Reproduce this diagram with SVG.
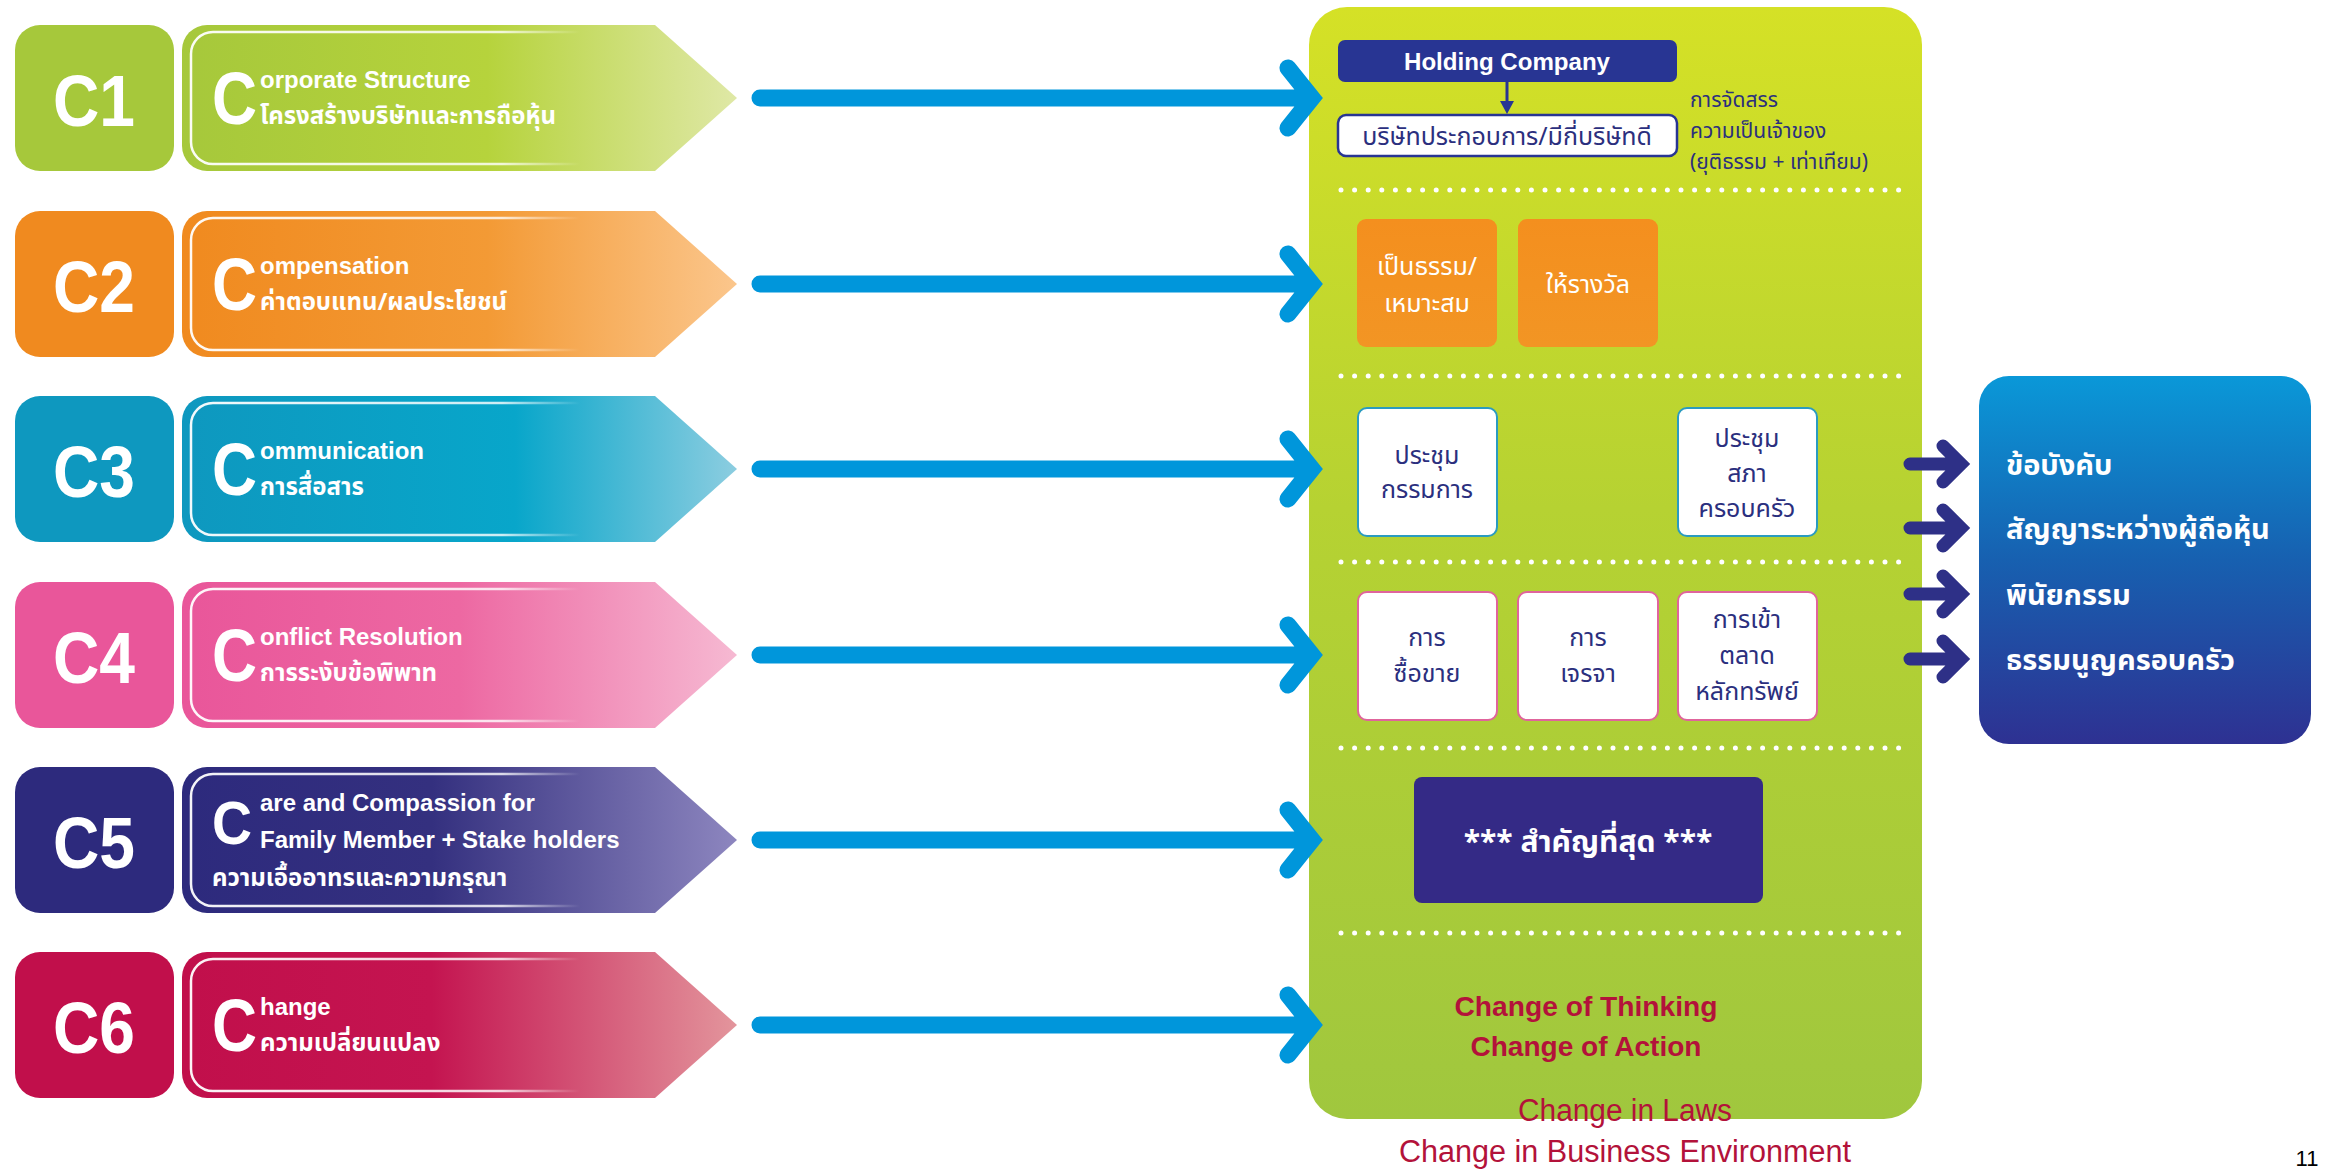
<svg xmlns="http://www.w3.org/2000/svg" width="2333" height="1170" viewBox="0 0 2333 1170">
<defs>
<style>
.sqt{font-family:"Liberation Sans",Arial,sans-serif;font-weight:bold;fill:#fff;text-anchor:middle}
.bigc{font-family:"Liberation Sans",Arial,sans-serif;font-weight:bold;fill:#fff}
.en{font-family:"Liberation Sans",Arial,sans-serif;font-weight:bold;fill:#fff;font-size:24px}
.th{font-family:"Noto Sans Thai","Noto Sans Thai UI","Liberation Sans",sans-serif;font-weight:bold;fill:#fff;font-size:24px}
.box{font-family:"Noto Sans Thai","Noto Sans Thai UI","Liberation Sans",sans-serif;fill:#2b2f7e;font-size:25px;text-anchor:middle}
.obox{font-family:"Noto Sans Thai","Noto Sans Thai UI","Liberation Sans",sans-serif;fill:#fff;font-size:25px;text-anchor:middle}
.side{font-family:"Noto Sans Thai","Noto Sans Thai UI","Liberation Sans",sans-serif;fill:#2b2f7e;font-size:21px}
.bl{font-family:"Noto Sans Thai","Noto Sans Thai UI","Liberation Sans",sans-serif;font-weight:bold;fill:#fff;font-size:29px}
.red{font-family:"Liberation Sans",Arial,sans-serif;fill:#b3123a;text-anchor:middle}
.dots{stroke:#fff;stroke-width:5;stroke-linecap:round;stroke-dasharray:0 13.6}
.barrow{fill:none;stroke:#0096db;stroke-width:17;stroke-linecap:round;stroke-linejoin:miter}
.narrow{fill:none;stroke:#2e3087;stroke-width:13;stroke-linecap:round;stroke-linejoin:miter}
.wbox3{fill:#fff;stroke:#2a9bc0;stroke-width:2}
.wbox4{fill:#fff;stroke:#e0649c;stroke-width:2}
</style>
<linearGradient id="g1" x1="0" x2="1" y1="0" y2="0"><stop offset="0" stop-color="#a6c83b"/><stop offset="0.55" stop-color="#b6d33c"/><stop offset="1" stop-color="#dfe8a6"/></linearGradient>
<linearGradient id="g2" x1="0" x2="1" y1="0" y2="0"><stop offset="0" stop-color="#f08a1f"/><stop offset="0.55" stop-color="#f39a35"/><stop offset="1" stop-color="#fbc68c"/></linearGradient>
<linearGradient id="g3" x1="0" x2="1" y1="0" y2="0"><stop offset="0" stop-color="#0e98bf"/><stop offset="0.6" stop-color="#08a6ca"/><stop offset="1" stop-color="#8ccde0"/></linearGradient>
<linearGradient id="g4" x1="0" x2="1" y1="0" y2="0"><stop offset="0" stop-color="#e9569a"/><stop offset="0.5" stop-color="#ed68a2"/><stop offset="1" stop-color="#f6b9d2"/></linearGradient>
<linearGradient id="g5" x1="0" x2="1" y1="0" y2="0"><stop offset="0" stop-color="#2d2a7d"/><stop offset="0.45" stop-color="#34307f"/><stop offset="1" stop-color="#8d86bf"/></linearGradient>
<linearGradient id="g6" x1="0" x2="1" y1="0" y2="0"><stop offset="0" stop-color="#c10f4b"/><stop offset="0.45" stop-color="#c41450"/><stop offset="1" stop-color="#e3959c"/></linearGradient>
<linearGradient id="wf" gradientUnits="userSpaceOnUse" x1="190" x2="580" y1="0" y2="0"><stop offset="0" stop-color="#fff" stop-opacity="0.95"/><stop offset="0.8" stop-color="#fff" stop-opacity="0.8"/><stop offset="1" stop-color="#fff" stop-opacity="0"/></linearGradient>
<linearGradient id="panel" x1="0" x2="0" y1="0" y2="1"><stop offset="0" stop-color="#d5e126"/><stop offset="0.45" stop-color="#b6d232"/><stop offset="1" stop-color="#a0c73e"/></linearGradient>
<linearGradient id="bluebox" x1="0" x2="0" y1="0" y2="1"><stop offset="0" stop-color="#0a98d8"/><stop offset="0.5" stop-color="#1760b0"/><stop offset="1" stop-color="#2e3192"/></linearGradient>
<linearGradient id="orange" x1="0" x2="0" y1="0" y2="1"><stop offset="0" stop-color="#f48f1e"/><stop offset="1" stop-color="#f29524"/></linearGradient>
<path id="banner" d="M207,0 H655 L737,73 L655,146 H207 A25,25 0 0 1 182,121 V25 A25,25 0 0 1 207,0 Z"/>
<path id="inner" d="M580,7 H213 A22,22 0 0 0 191,29 V117 A22,22 0 0 0 213,139 H580" fill="none" stroke="url(#wf)" stroke-width="2.5"/>
</defs>
<rect width="2333" height="1170" fill="#fff"/>

<g id="c1" transform="translate(0,25)">
<rect x="15" y="0" width="159" height="146" rx="25" fill="#a6c83b"/>
<text class="sqt" x="94" y="101" font-size="72" textLength="82" lengthAdjust="spacingAndGlyphs">C1</text>
<use href="#banner" fill="url(#g1)"/><use href="#inner"/>
<text class="bigc" x="212" y="99" font-size="74" textLength="45" lengthAdjust="spacingAndGlyphs">C</text>
<text class="en" x="260" y="63">orporate Structure</text>
<text class="th" x="260" y="99">โครงสร้างบริษัทและการถือหุ้น</text>
</g>

<g id="c2" transform="translate(0,211)">
<rect x="15" y="0" width="159" height="146" rx="25" fill="#f08a1f"/>
<text class="sqt" x="94" y="101" font-size="72" textLength="82" lengthAdjust="spacingAndGlyphs">C2</text>
<use href="#banner" fill="url(#g2)"/><use href="#inner"/>
<text class="bigc" x="212" y="99" font-size="74" textLength="45" lengthAdjust="spacingAndGlyphs">C</text>
<text class="en" x="260" y="63">ompensation</text>
<text class="th" x="260" y="99">ค่าตอบแทน/ผลประโยชน์</text>
</g>

<g id="c3" transform="translate(0,396)">
<rect x="15" y="0" width="159" height="146" rx="25" fill="#0e98bf"/>
<text class="sqt" x="94" y="101" font-size="72" textLength="82" lengthAdjust="spacingAndGlyphs">C3</text>
<use href="#banner" fill="url(#g3)"/><use href="#inner"/>
<text class="bigc" x="212" y="99" font-size="74" textLength="45" lengthAdjust="spacingAndGlyphs">C</text>
<text class="en" x="260" y="63">ommunication</text>
<text class="th" x="260" y="99">การสื่อสาร</text>
</g>

<g id="c4" transform="translate(0,582)">
<rect x="15" y="0" width="159" height="146" rx="25" fill="#e9569a"/>
<text class="sqt" x="94" y="101" font-size="72" textLength="82" lengthAdjust="spacingAndGlyphs">C4</text>
<use href="#banner" fill="url(#g4)"/><use href="#inner"/>
<text class="bigc" x="212" y="99" font-size="74" textLength="45" lengthAdjust="spacingAndGlyphs">C</text>
<text class="en" x="260" y="63">onflict Resolution</text>
<text class="th" x="260" y="99">การระงับข้อพิพาท</text>
</g>

<g id="c5" transform="translate(0,767)">
<rect x="15" y="0" width="159" height="146" rx="25" fill="#2d2a7d"/>
<text class="sqt" x="94" y="101" font-size="72" textLength="82" lengthAdjust="spacingAndGlyphs">C5</text>
<use href="#banner" fill="url(#g5)"/><use href="#inner"/>
<text class="bigc" x="212" y="77" font-size="62" textLength="40" lengthAdjust="spacingAndGlyphs">C</text>
<text class="en" x="260" y="44">are and Compassion for</text>
<text class="en" x="260" y="81">Family Member + Stake holders</text>
<text class="th" x="212" y="119" font-size="25">ความเอื้ออาทรและความกรุณา</text>
</g>

<g id="c6" transform="translate(0,952)">
<rect x="15" y="0" width="159" height="146" rx="25" fill="#c10f4b"/>
<text class="sqt" x="94" y="101" font-size="72" textLength="82" lengthAdjust="spacingAndGlyphs">C6</text>
<use href="#banner" fill="url(#g6)"/><use href="#inner"/>
<text class="bigc" x="212" y="99" font-size="74" textLength="45" lengthAdjust="spacingAndGlyphs">C</text>
<text class="en" x="260" y="63">hange</text>
<text class="th" x="260" y="99">ความเปลี่ยนแปลง</text>
</g>

<g id="panel-bg">
<rect x="1309" y="7" width="613" height="1112" rx="38" fill="url(#panel)"/>
<line class="dots" x1="1341" y1="190" x2="1902" y2="190"/>
<line class="dots" x1="1341" y1="376" x2="1902" y2="376"/>
<line class="dots" x1="1341" y1="562" x2="1902" y2="562"/>
<line class="dots" x1="1341" y1="748" x2="1902" y2="748"/>
<line class="dots" x1="1341" y1="933" x2="1902" y2="933"/>
</g>

<g id="holding">
<rect x="1338" y="40" width="339" height="42" rx="7" fill="#283593"/>
<text x="1507" y="70" font-family="Liberation Sans, Arial, sans-serif" font-weight="bold" font-size="23" fill="#fff" text-anchor="middle" textLength="206" lengthAdjust="spacingAndGlyphs">Holding Company</text>
</g>
<g id="operating">
<rect x="1338" y="115" width="339" height="41" rx="8" fill="#fff" stroke="#283593" stroke-width="2.5"/>
<text class="box" x="1507" y="145" font-size="24">บริษัทประกอบการ/มีกี่บริษัทดี</text>
</g>
<g id="ownership">
<text class="side" x="1690" y="107">การจัดสรร</text>
<text class="side" x="1690" y="138">ความเป็นเจ้าของ</text>
<text class="side" x="1690" y="169">(ยุติธรรม + เท่าเทียม)</text>
</g>

<g id="fair">
<rect x="1357" y="219" width="140" height="128" rx="9" fill="url(#orange)"/>
<text class="obox" x="1427" y="275">เป็นธรรม/</text>
<text class="obox" x="1427" y="312">เหมาะสม</text>
</g>
<g id="reward">
<rect x="1518" y="219" width="140" height="128" rx="9" fill="url(#orange)"/>
<text class="obox" x="1588" y="293">ให้รางวัล</text>
</g>

<g id="board">
<rect class="wbox3" x="1358" y="408" width="139" height="128" rx="9"/>
<text class="box" x="1427" y="464">ประชุม</text>
<text class="box" x="1427" y="498">กรรมการ</text>
</g>
<g id="council">
<rect class="wbox3" x="1678" y="408" width="139" height="128" rx="9"/>
<text class="box" x="1747" y="447">ประชุม</text>
<text class="box" x="1747" y="482">สภา</text>
<text class="box" x="1747" y="517">ครอบครัว</text>
</g>

<g id="trade">
<rect class="wbox4" x="1358" y="592" width="139" height="128" rx="9"/>
<text class="box" x="1427" y="646">การ</text>
<text class="box" x="1427" y="682">ซื้อขาย</text>
</g>
<g id="negotiate">
<rect class="wbox4" x="1518" y="592" width="140" height="128" rx="9"/>
<text class="box" x="1588" y="646">การ</text>
<text class="box" x="1588" y="682">เจรจา</text>
</g>
<g id="listing">
<rect class="wbox4" x="1678" y="592" width="139" height="128" rx="9"/>
<text class="box" x="1747" y="628">การเข้า</text>
<text class="box" x="1747" y="664">ตลาด</text>
<text class="box" x="1747" y="700">หลักทรัพย์</text>
</g>

<g id="important">
<rect x="1414" y="777" width="349" height="126" rx="8" fill="#342a86"/>
<text x="1588" y="852" font-family="Noto Sans Thai, Liberation Sans, sans-serif" font-weight="bold" font-size="30" fill="#fff" text-anchor="middle">*** สำคัญที่สุด ***</text>
</g>

<g id="change">
<text class="red" x="1586" y="1016" font-size="28" font-weight="bold" textLength="263" lengthAdjust="spacingAndGlyphs">Change of Thinking</text>
<text class="red" x="1586" y="1056" font-size="28" font-weight="bold" textLength="231" lengthAdjust="spacingAndGlyphs">Change of Action</text>
</g>

<g id="legal">
<rect x="1979" y="376" width="332" height="368" rx="30" fill="url(#bluebox)"/>
<text class="bl" x="2006" y="475">ข้อบังคับ</text>
<text class="bl" x="2006" y="539">สัญญาระหว่างผู้ถือหุ้น</text>
<text class="bl" x="2006" y="605">พินัยกรรม</text>
<text class="bl" x="2006" y="670">ธรรมนูญครอบครัว</text>
</g>

<g id="connectors">
<g class="barrow">
<path d="M760,98 H1308 M1288,68 L1312,98 L1288,128"/>
<path d="M760,284 H1308 M1288,254 L1312,284 L1288,314"/>
<path d="M760,469 H1308 M1288,439 L1312,469 L1288,499"/>
<path d="M760,655 H1308 M1288,625 L1312,655 L1288,685"/>
<path d="M760,840 H1308 M1288,810 L1312,840 L1288,870"/>
<path d="M760,1025 H1308 M1288,995 L1312,1025 L1288,1055"/>
</g>
<g class="narrow">
<path d="M1910,464 H1955 M1943,446 L1961,464 L1943,482"/>
<path d="M1910,528 H1955 M1943,510 L1961,528 L1943,546"/>
<path d="M1910,594 H1955 M1943,576 L1961,594 L1943,612"/>
<path d="M1910,659 H1955 M1943,641 L1961,659 L1943,677"/>
</g>
<line x1="1507" y1="82" x2="1507" y2="104" stroke="#283593" stroke-width="3"/>
<path d="M1500,101 L1514,101 L1507,114 Z" fill="#283593"/>
</g>

<text class="red" x="1625" y="1121" font-size="31" textLength="214" lengthAdjust="spacingAndGlyphs">Change in Laws</text>
<text class="red" x="1625" y="1162" font-size="31" textLength="452" lengthAdjust="spacingAndGlyphs">Change in Business Environment</text>
<text x="2307" y="1166" font-family="Liberation Sans, Arial, sans-serif" font-size="22" fill="#000" text-anchor="middle">11</text>
</svg>
